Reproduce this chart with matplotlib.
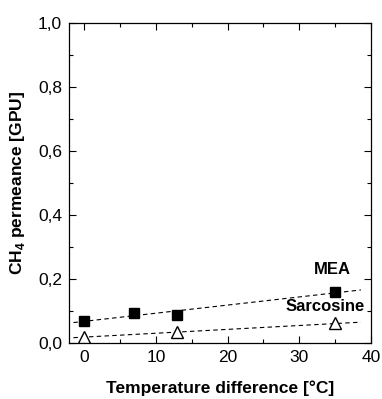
import numpy as np
import matplotlib
matplotlib.use("Agg")
import matplotlib.pyplot as plt
from matplotlib.ticker import FuncFormatter, MultipleLocator

plt.rcParams['font.family'] = ['Liberation Sans', 'DejaVu Sans']
plt.rcParams['mathtext.fontset'] = 'custom'
plt.rcParams['mathtext.rm'] = 'Liberation Sans:bold'
plt.rcParams['mathtext.bf'] = 'Liberation Sans:bold'

mea_x = [0, 7, 13, 35]
mea_y = [0.071, 0.094, 0.088, 0.161]
mea_err = [0.004, 0.004, 0.005, 0.010]
sar_x = [0, 13, 35]
sar_y = [0.020, 0.034, 0.062]
sar_err = [0.004, 0.010, 0.005]

fig = plt.figure(figsize=(3.82, 3.99), dpi=100)
ax = fig.add_axes([0.181, 0.1396, 0.79, 0.8024])

fit_x = np.array([-1.5, 38.6])
for xs, ys in [(mea_x, mea_y), (sar_x, sar_y)]:
    p = np.polyfit(xs, ys, 1)
    ax.plot(fit_x, np.polyval(p, fit_x), ls=(0, (4, 3)), color='black', lw=0.8)

ax.errorbar(mea_x, mea_y, yerr=mea_err, fmt='s', color='black', ms=7,
            elinewidth=0.8, capsize=0, zorder=3)
ax.errorbar(sar_x, sar_y, yerr=sar_err, fmt='^', mfc='white', mec='black',
            color='black', ms=8, mew=1.0, elinewidth=0.8, capsize=0, zorder=3)

ax.text(34.6, 0.229, 'MEA', ha='center', va='center', fontsize=12, fontweight='bold')
ax.text(33.6, 0.114, 'Sarcosine', ha='center', va='center', fontsize=12, fontweight='bold')

ax.set_xlim(-2.1, 40)
ax.set_ylim(0, 1.0)
ax.xaxis.set_major_locator(MultipleLocator(10))
ax.xaxis.set_minor_locator(MultipleLocator(5))
ax.yaxis.set_major_locator(MultipleLocator(0.2))
ax.yaxis.set_minor_locator(MultipleLocator(0.1))
ax.yaxis.set_major_formatter(FuncFormatter(lambda v, p: f'{v:.1f}'.replace('.', ',')))
ax.tick_params(which='both', direction='in', top=True, right=True, labelsize=12.5, width=0.8)
ax.tick_params(which='major', length=5, pad=5)
ax.tick_params(which='minor', length=3)
for s in ax.spines.values():
    s.set_linewidth(0.9)

ax.set_xlabel('Temperature difference [°C]', fontsize=12.5, fontweight='bold', labelpad=11)
ax.set_ylabel('CH$_4$ permeance [GPU]', fontsize=12.5, fontweight='bold', labelpad=8)

fig.savefig('out.png', dpi=100)
